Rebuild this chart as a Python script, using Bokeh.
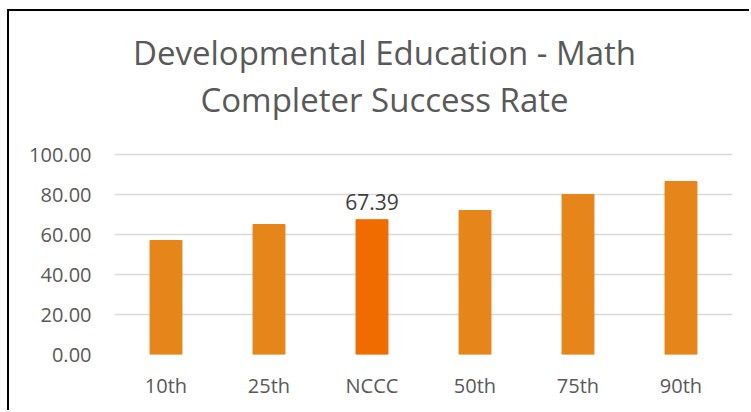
from bokeh.plotting import figure
from bokeh.models import ColumnDataSource, Range1d, FactorRange, NumeralTickFormatter, Label
from bokeh.core.properties import value
from bokeh.embed import file_html
from bokeh.resources import INLINE

categories = ["10th", "25th", "NCCC", "50th", "75th", "90th"]
rates = [57.0, 65.0, 67.39, 72.0, 80.0, 86.5]
bar_colors = ["#E6851A", "#E6851A", "#F06C00", "#E6851A", "#E6851A", "#E6851A"]
label_cats = ["NCCC"]
label_vals = [67.39]
label_texts = ["67.39"]
y_ticks = [0, 20, 40, 60, 80, 100]
title_lines = ["Developmental Education - Math", "Completer Success Rate"]

FONT = "Open Sans"
TXT = "#595959"

# the frame extends up to the top of the canvas so the title can be drawn inside it
p = figure(
    width=742, height=401,
    x_range=FactorRange(*categories, range_padding=0),
    y_range=Range1d(0, 171.5),
    output_backend="svg", toolbar_location=None,
    min_border_left=105, min_border_right=19,
    min_border_top=0, min_border_bottom=58,
    outline_line_color=None,
)
p.styles = {"border-left": "2px solid #000000", "border-top": "2px solid #000000",
            "margin-left": "7px", "margin-top": "9px"}

p.title.visible = False
for line, ypos in zip(title_lines, [151.0, 127.5]):
    p.add_layout(Label(x=270, y=ypos, x_units="screen", y_units="data", text=line,
                       text_align="center", text_baseline="alphabetic",
                       text_font=FONT, text_font_size="33px", text_color=TXT))

src = ColumnDataSource(dict(cat=categories, val=rates, color=bar_colors))
p.vbar(x="cat", top="val", width=0.31, color="color", source=src)

lsrc = ColumnDataSource(dict(cat=label_cats, val=label_vals, txt=label_texts))
p.text(x="cat", y="val", text="txt", source=lsrc, text_align="center",
       text_baseline="alphabetic", y_offset=-18, text_font=value(FONT),
       text_font_size="21px", text_color="#404040")

p.yaxis.ticker = y_ticks
p.yaxis.formatter = NumeralTickFormatter(format="0.00")
for ax in (p.xaxis, p.yaxis):
    ax.axis_line_color = None
    ax.major_tick_line_color = None
    ax.minor_tick_line_color = None
    ax.major_label_text_font = FONT
    ax.major_label_text_font_size = "20px"
    ax.major_label_text_color = TXT
p.yaxis.major_label_standoff = 17
p.xaxis.major_label_standoff = 11

p.xgrid.grid_line_color = None
p.ygrid.grid_line_color = "#D9D9D9"
p.ygrid.grid_line_width = 1.5

open("out.html", "w").write(file_html(p, INLINE))
